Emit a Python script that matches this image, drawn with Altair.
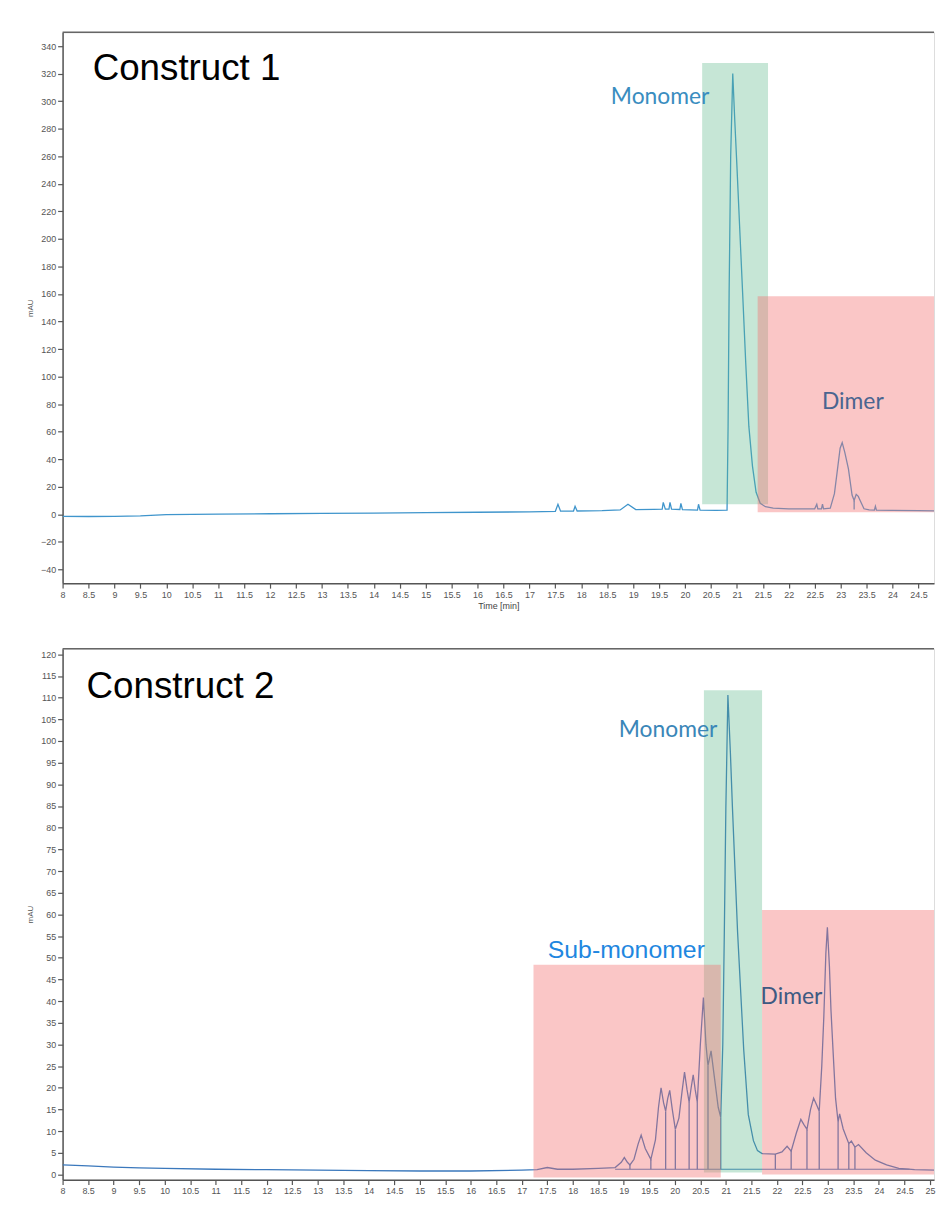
import altair as alt
import pandas as pd

# ---------------- data ----------------
# Construct 1 trace (time [min], mAU)
top_t = [8.0, 8.5, 9.0, 9.5, 10.0, 10.5, 11.0, 12.0, 13.0, 14.0, 15.0, 16.0, 17.0,
         17.5, 17.55, 17.6, 17.85, 17.88, 17.92, 18.4, 18.75, 18.9, 19.05, 19.4,
         19.56, 19.58, 19.62, 19.69, 19.71, 19.74, 19.9, 19.92, 19.95, 20.24, 20.26,
         20.29, 20.6, 20.81, 20.83, 20.85, 20.88, 20.92, 20.96, 21.0, 21.05, 21.11,
         21.17, 21.23, 21.3, 21.37, 21.45, 21.55, 21.7, 22.0, 22.5, 22.54, 22.56,
         22.63, 22.65, 22.67, 22.8, 22.88, 22.94, 22.99, 23.03, 23.08, 23.15, 23.22,
         23.26, 23.3, 23.34, 23.38, 23.45, 23.55, 23.65, 23.67, 23.69, 24.0, 24.5, 25.0]
top_v = [-1.5, -1.6, -1.5, -1.2, -0.3, 0.0, 0.2, 0.4, 0.6, 0.9, 1.2, 1.5, 1.8,
         2.2, 7.3, 2.3, 2.4, 5.8, 2.4, 2.6, 3.2, 7.3, 3.4, 3.6,
         3.8, 8.7, 3.8, 3.8, 8.7, 3.8, 3.5, 8.0, 3.4, 3.0, 7.3,
         3.0, 2.9, 3.0, 64, 161, 260, 320, 285, 253, 211, 161,
         110, 64, 35, 16, 8, 5.5, 4.5, 4.0, 4.0, 7.3, 4.0,
         4.0, 7.3, 4.0, 4.5, 15, 33, 48, 52, 45, 33, 14,
         10, 14.5, 13, 9.7, 4, 3.2, 3.0, 5.8, 3.0, 2.8, 2.6, 2.5]

# Construct 2 trace
bot_t = [8.0, 8.5, 9.0, 9.5, 10.0, 11.0, 12.0, 13.0, 14.0, 15.0, 16.0, 17.0, 17.3,
         17.5, 17.7, 18.0, 18.5, 18.83, 18.95, 19.01, 19.07, 19.12, 19.2, 19.28,
         19.34, 19.42, 19.53, 19.62, 19.68, 19.73, 19.78, 19.82, 19.86, 19.9, 19.95,
         20.01, 20.08, 20.14, 20.19, 20.24, 20.28, 20.32, 20.36, 20.4, 20.44, 20.5,
         20.56, 20.61, 20.65, 20.71, 20.78, 20.85, 20.9, 20.94, 20.97, 21.0, 21.04,
         21.09, 21.13, 21.23, 21.35, 21.44, 21.54, 21.62, 21.71, 21.97, 22.1, 22.2,
         22.28, 22.38, 22.47, 22.53, 22.59, 22.66, 22.72, 22.78, 22.83, 22.88, 22.92,
         22.96, 22.99, 23.03, 23.06, 23.1, 23.15, 23.2, 23.23, 23.3, 23.41, 23.46,
         23.53, 23.6, 23.75, 23.93, 24.15, 24.39, 24.7, 25.1]
bot_v = [2.2, 2.0, 1.7, 1.5, 1.4, 1.2, 1.1, 1.0, 0.9, 0.8, 0.8, 1.0, 1.1,
         1.6, 1.2, 1.2, 1.4, 1.6, 2.8, 3.9, 2.8, 2.2, 3.5, 7.0,
         9.1, 6.0, 3.5, 8.0, 15.5, 20.0, 16.5, 14.6, 17.5, 19.4, 15.0,
         10.4, 13.0, 19.0, 23.6, 19.5, 16.7, 20.0, 23.0, 19.5, 16.7, 30.0,
         40.8, 30.0, 25.1, 28.5, 22.0, 15.5, 13.2, 30.0, 55.9, 84.4, 110.6,
         97.0, 84.4, 55.9, 28.8, 13.8, 7.8, 5.5, 4.8, 4.7, 5.2, 6.5,
         5.4, 9.5, 12.7, 11.5, 10.4, 15.0, 17.6, 16.0, 14.6, 25.0, 36.3,
         51.0, 57.0, 48.0, 38.0, 28.8, 17.6, 12.1, 14.0, 10.5, 7.1, 7.7,
         6.3, 6.9, 5.0, 3.3, 2.2, 1.4, 1.1, 1.0]

# integration drop lines (time, valley height, baseline) and integration baseline
top_drop_t = [23.26]
top_drop_v = [10.0]
top_drop_base = [3.5]
bot_drop_t = [19.12, 19.53, 19.82, 20.01, 20.28, 20.44, 20.65, 20.90,
              21.97, 22.28, 22.59, 22.83, 23.20, 23.41, 23.53]
bot_drop_v = [2.2, 3.5, 14.6, 10.4, 16.7, 16.7, 25.1, 13.2,
              4.7, 5.4, 10.4, 14.6, 12.1, 7.1, 6.3]
bot_drop_base = [1.2] * len(bot_drop_t)
bot_base_t = [18.83, 24.6]
bot_base_v = [1.2, 1.2]

# highlighted regions
top_reg_name = ["Monomer", "Dimer"]
top_reg_x1 = [20.33, 21.4]
top_reg_x2 = [21.6, 25.6]
top_reg_y1 = [7.3, 1.5]
top_reg_y2 = [327.8, 158.4]
bot_reg_name = ["Monomer", "Sub-monomer", "Dimer"]
bot_reg_x1 = [20.57, 17.23, 21.71]
bot_reg_x2 = [21.71, 20.9, 25.6]
bot_reg_y1 = [0.45, -0.7, 0.0]
bot_reg_y2 = [111.7, 48.4, 61.0]

top_x_ticks = [8, 8.5, 9, 9.5, 10, 10.5, 11, 11.5, 12, 12.5, 13, 13.5, 14, 14.5, 15,
               15.5, 16, 16.5, 17, 17.5, 18, 18.5, 19, 19.5, 20, 20.5, 21, 21.5, 22,
               22.5, 23, 23.5, 24, 24.5]
bot_x_ticks = [8, 8.5, 9, 9.5, 10, 10.5, 11, 11.5, 12, 12.5, 13, 13.5, 14, 14.5, 15,
               15.5, 16, 16.5, 17, 17.5, 18, 18.5, 19, 19.5, 20, 20.5, 21, 21.5, 22,
               22.5, 23, 23.5, 24, 24.5, 25]
top_y_ticks = [-40, -20, 0, 20, 40, 60, 80, 100, 120, 140, 160, 180, 200, 220,
               240, 260, 280, 300, 320, 340]
bot_y_ticks = [0, 5, 10, 15, 20, 25, 30, 35, 40, 45, 50, 55, 60, 65, 70, 75,
               80, 85, 90, 95, 100, 105, 110, 115, 120]

# ---------------- styling ----------------
AX = "#555555"
LABEL_FONT = "Liberation Sans"
W = 878


def x_axis(title, values):
    return alt.Axis(values=values, labelExpr="datum.value + ''", title=title,
                    tickSize=5, tickColor=AX, tickWidth=1.2, domainColor=AX,
                    domainWidth=1.5, labelColor=AX, labelFont=LABEL_FONT,
                    labelFontSize=9, labelPadding=2, labelOverlap=False,
                    labelFlush=False, grid=False, titleFont=LABEL_FONT,
                    titleFontSize=9, titleFontWeight="normal", titleColor="#444444",
                    titlePadding=3)


def y_axis(values):
    return alt.Axis(values=values, title="mAU", tickSize=5, tickColor=AX,
                    tickWidth=1.2, domainColor=AX, domainWidth=1.5, labelColor=AX,
                    labelFont=LABEL_FONT, labelFontSize=9, labelPadding=2,
                    labelOverlap=False, labelFlush=False, grid=False,
                    titleFont=LABEL_FONT, titleFontSize=8, titleFontWeight="normal",
                    titleColor=AX, titlePadding=6)


def panel(t, v, drop_t, drop_v, drop_base, reg_name, rx1, rx2, ry1, ry2,
          x_domain, x_ticks, y_domain, y_ticks, height, line_color, x_title,
          texts, base=None):
    xs = alt.Scale(domain=x_domain, nice=False, zero=False)
    ys = alt.Scale(domain=y_domain, nice=False, zero=False)
    xa = x_axis(x_title, x_ticks)
    ya = y_axis(y_ticks)

    trace = pd.DataFrame({"t": t, "v": v})
    line = alt.Chart(trace).mark_line(color=line_color, strokeWidth=1.3,
                                      interpolate="linear", clip=True).encode(
        x=alt.X("t:Q", scale=xs, axis=xa),
        y=alt.Y("v:Q", scale=ys, axis=ya),
    )
    layers = [line]

    drops = pd.DataFrame({"t": drop_t, "v": drop_v, "b": drop_base})
    layers.append(alt.Chart(drops).mark_rule(color=line_color, strokeWidth=1.3).encode(
        x=alt.X("t:Q", scale=xs, axis=xa),
        y=alt.Y("b:Q", scale=ys, axis=ya),
        y2="v:Q",
    ))
    if base is not None:
        bdf = pd.DataFrame({"t": base[0], "v": base[1]})
        layers.append(alt.Chart(bdf).mark_line(color=line_color, strokeWidth=1.2,
                                               clip=True).encode(
            x=alt.X("t:Q", scale=xs, axis=xa),
            y=alt.Y("v:Q", scale=ys, axis=ya),
        ))

    regs = pd.DataFrame({"name": reg_name, "x1": rx1, "x2": rx2, "y1": ry1, "y2": ry2})
    green = alt.Chart(regs).transform_filter("datum.name == 'Monomer'").mark_rect(
        color="#5cb88a", opacity=0.35, clip=True).encode(
        x=alt.X("x1:Q", scale=xs, axis=xa), x2="x2:Q",
        y=alt.Y("y1:Q", scale=ys, axis=ya), y2="y2:Q")
    red = alt.Chart(regs).transform_filter("datum.name != 'Monomer'").mark_rect(
        color="#f27070", opacity=0.4, clip=True).encode(
        x=alt.X("x1:Q", scale=xs, axis=xa), x2="x2:Q",
        y=alt.Y("y1:Q", scale=ys, axis=ya), y2="y2:Q")
    layers += [green, red]

    # frame line on top of the plot area
    layers.append(alt.Chart(pd.DataFrame({"a": [0]})).mark_rule(
        color="#666666", strokeWidth=1.5).encode(y=alt.value(0)))

    for (label, tx, ty, font, size, color) in texts:
        layers.append(alt.Chart(pd.DataFrame({"a": [0]})).mark_text(
            align="left", baseline="middle", font=font, fontSize=size,
            color=color).encode(
            x=alt.XDatum(tx, type="quantitative", scale=xs, axis=xa),
            y=alt.YDatum(ty, type="quantitative", scale=ys, axis=ya),
            text=alt.value(label)))

    return alt.layer(*layers).properties(width=W, height=height)


top = panel(
    top_t, top_v, top_drop_t, top_drop_v, top_drop_base,
    top_reg_name, top_reg_x1, top_reg_x2, top_reg_y1, top_reg_y2,
    [8, 24.8], top_x_ticks, [-50, 350], top_y_ticks, 555, "#3f95cc", "Time [min]",
    [("Construct 1", 8.58, 323, LABEL_FONT, 37, "#000000"),
     ("Monomer", 18.57, 303, "Lato", 23, "#3a8dc0"),
     ("Dimer", 22.64, 81.6, "Lato", 23, "#4a6590")],
)

bottom = panel(
    bot_t, bot_v, bot_drop_t, bot_drop_v, bot_drop_base,
    bot_reg_name, bot_reg_x1, bot_reg_x2, bot_reg_y1, bot_reg_y2,
    [8, 25.08], bot_x_ticks, [-1.2, 121.3], bot_y_ticks, 535, "#3a78bc", "",
    [("Construct 2", 8.47, 112.4, LABEL_FONT, 37, "#000000"),
     ("Monomer", 18.90, 102.5, "Lato", 23, "#3a86b8"),
     ("Sub-monomer", 17.51, 51.8, LABEL_FONT, 25, "#1f87e0"),
     ("Dimer", 21.68, 41.0, "Lato", 23, "#3d5a82")],
    base=(bot_base_t, bot_base_v),
)

chart = alt.vconcat(top, bottom, spacing=35).properties(
    padding={"top": 18, "left": 18, "right": 0, "bottom": 0}
).configure_view(strokeWidth=0).configure(background="white")

chart.save("out.html", embed_options={"renderer": "svg", "actions": False})
